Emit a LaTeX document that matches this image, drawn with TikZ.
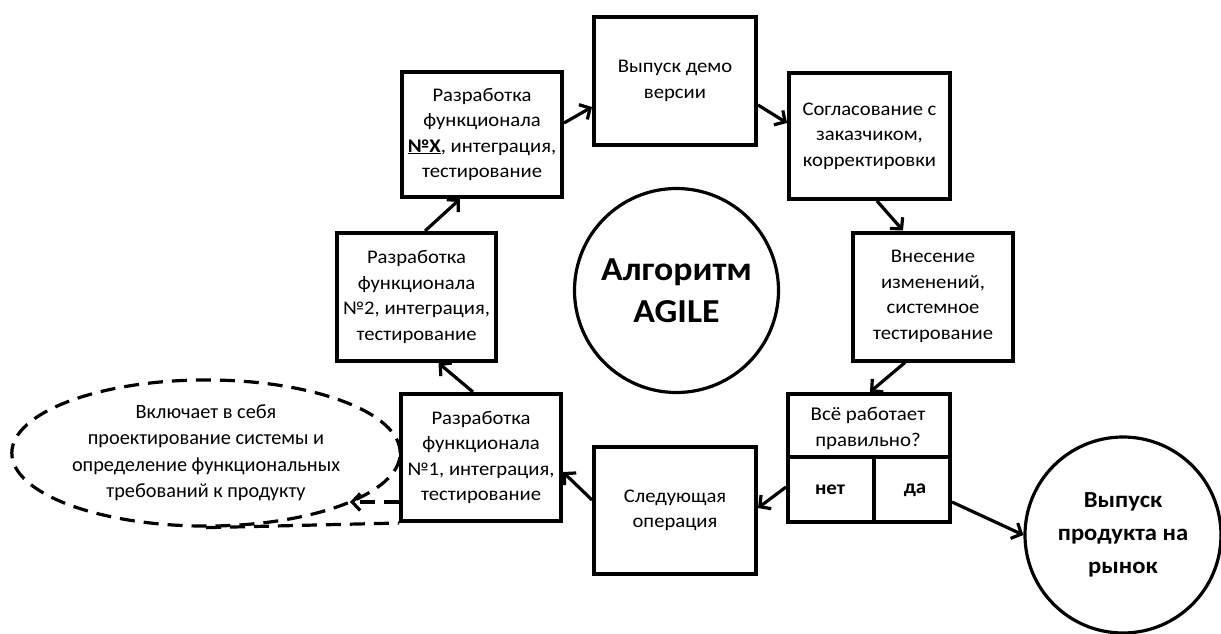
\documentclass[tikz,border=0pt]{standalone}
\usepackage{fontspec}
\setmainfont{Carlito}
\newfontfamily\widefont{Carlito}[FakeStretch=1.07]
\usetikzlibrary{arrows.meta,calc,shapes.geometric}
\begin{document}
\begin{tikzpicture}[x=1pt,y=-1pt,
  box/.style={draw=black,line width=4pt,rectangle,align=center,inner sep=2pt,
     font=\widefont\fontsize{19.3}{25.5}\selectfont},
  txt/.style={align=center,inner sep=0pt,font=\widefont\fontsize{19.5}{26}\selectfont},
  circ/.style={draw=black,line width=3.2pt,circle,align=center,inner sep=0pt},
  arr/.style={line width=3.2pt,-{Straight Barb[length=8pt,width=17pt]}},
  dsh/.style={line width=3.2pt,dash pattern=on 15pt off 9pt}]
\useasboundingbox (0,0) rectangle (1221,634);
% boxes
\node[box,minimum width=160pt,minimum height=125pt] (bX) at (482,134.5)
  {Разработка\\функционала\\\underline{\textbf{№X}}, интеграция,\\тестирование};
\node[box,minimum width=162pt,minimum height=127pt] (demo) at (675,81) {Выпуск демо\\версии};
\node[box,minimum width=161pt,minimum height=126pt] (sogl) at (869.5,136)
  {Согласование с\\заказчиком,\\корректировки};
\node[box,minimum width=160pt,minimum height=128pt] (vnes) at (933,296.5)
  {Внесение\\изменений,\\системное\\тестирование};
\node[box,minimum width=162pt,minimum height=128pt] (vse) at (869,458) {};
\node[box,minimum width=162pt,minimum height=127pt] (sled) at (675,510.5) {Следующая\\операция};
\node[box,minimum width=160pt,minimum height=127pt] (b1) at (481,457.5)
  {Разработка\\функционала\\№1, интеграция,\\тестирование};
\node[box,minimum width=159pt,minimum height=128pt] (b2) at (416.5,297)
  {Разработка\\функционала\\№2, интеграция,\\тестирование};
% decision box inner parts
\coordinate (dl) at ($(vse.north west)!0.495!(vse.south west)$);
\coordinate (dr) at ($(vse.north east)!0.495!(vse.south east)$);
\coordinate (dm) at ($(vse.south west)!0.53!(vse.south east)$);
\draw[line width=4pt] (dl) -- (dr);
\draw[line width=4pt] (dm) -- (dm |- dl);
\node[txt] (vq) at (868,428) {Всё работает\\правильно?};
\node[txt,font=\widefont\bfseries\fontsize{19.5}{26}\selectfont] (vno) at (830,490) {нет};
\node[txt,font=\widefont\bfseries\fontsize{19.5}{26}\selectfont] (vyes) at (915,490) {да};
% circles
\node[circ,minimum size=204pt,font=\widefont\bfseries\fontsize{33.5}{42}\selectfont] (agile) at (676.5,290.5)
  {Алгоритм\\AGILE};
\node[circ,minimum size=196pt,font=\widefont\bfseries\fontsize{23}{33}\selectfont] (prod) at (1123,535)
  {Выпуск\\продукта на\\рынок};
% dashed ellipse note
\node[ellipse,draw=black,dsh,minimum width=386pt,minimum height=140pt,align=center,
  font=\fontsize{20.3}{26.5}\selectfont] (note) at (206,453)
  {Включает в себя\\проектирование системы и\\определение функциональных\\требований к продукту};
\coordinate (noteTip) at (350,502);
\draw[dsh] (note.south) -- (b1.south west);
\draw[dsh,-{Straight Barb[length=8pt,width=17pt]}] ([yshift=-44.5pt]b1.west) -- (noteTip);
% arrows
\draw[arr] ([xshift=-8pt]b1.north) -- ([xshift=22pt]b2.south);
\draw[arr] ([xshift=8.5pt]b2.north) -- ([xshift=-22pt]bX.south);
\draw[arr] ([yshift=11.5pt]bX.east) -- ([yshift=-26pt]demo.west);
\draw[arr] ([yshift=-24pt]demo.east) -- ([yshift=13pt]sogl.west);
\draw[arr] ([xshift=7.5pt]sogl.south) -- ([xshift=-30pt]vnes.north);
\draw[arr] ([xshift=-28pt]vnes.south) -- ([xshift=1pt]vse.north);
\draw[arr] ([yshift=-29pt]vse.west) -- ([yshift=2.5pt]sled.east);
\draw[arr] ([yshift=10.5pt]sled.west) -- ([yshift=-14.5pt]b1.east);
\draw[arr] ([yshift=-44pt]vse.east) -- (prod.west);
\end{tikzpicture}
\end{document}
